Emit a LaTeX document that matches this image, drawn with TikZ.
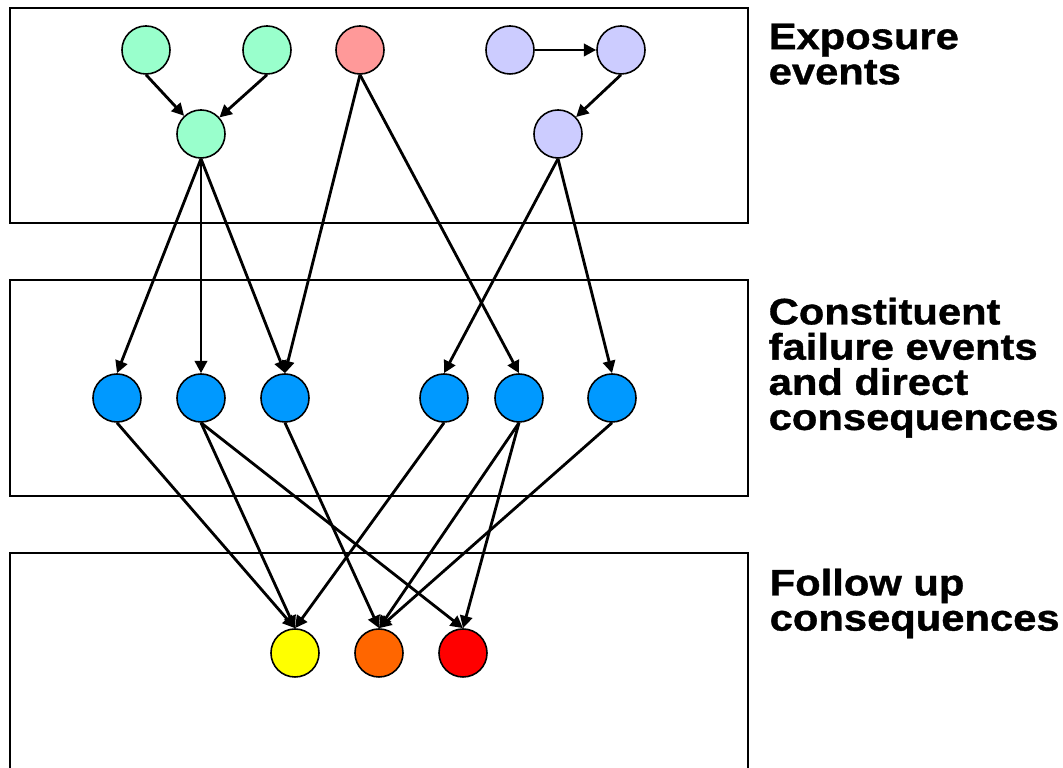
\documentclass[tikz,border=0pt]{standalone}
\usepackage{fontspec}
\newfontfamily\beschrift[FakeStretch=1.13, BoldFeatures={FakeBold=1}]{Liberation Sans}
\usetikzlibrary{arrows.meta}

\definecolor{mint}{HTML}{99FFCC}
\definecolor{rosa}{HTML}{FF9999}
\definecolor{flieder}{HTML}{CCCCFF}
\definecolor{himmel}{HTML}{0099FF}
\definecolor{gelb}{HTML}{FFFF00}
\definecolor{orangerot}{HTML}{FF6600}
\definecolor{rot}{HTML}{FF0000}

\begin{document}
\begin{tikzpicture}[x=0.01cm, y=-0.01cm,
    ereignis/.style={circle, draw, line width=0.45pt, minimum size=0.48cm, inner sep=0pt},
    pfeil/.style={line width=0.8pt, -{Triangle[length=3.5pt, width=3.5pt]}},
    titel/.style={anchor=north west, inner sep=0pt, align=left,
        font=\beschrift\bfseries\fontsize{10.5}{10}\selectfont}]
    \useasboundingbox (0,0) rectangle (1063,768);

    % Rahmen der drei Ebenen
    \draw[line width=0.4pt] (10,8) rectangle (748,223);
    \draw[line width=0.4pt] (10,280) rectangle (748,496);
    \draw[line width=0.4pt] (10,775) -- (10,553) -- (748,553) -- (748,775);

    % Ebene 1
    \node[ereignis, fill=mint] (g1) at (146,50) {};
    \node[ereignis, fill=mint] (g2) at (267,50) {};
    \node[ereignis, fill=rosa] (p1) at (360,50) {};
    \node[ereignis, fill=flieder] (l1) at (510,50) {};
    \node[ereignis, fill=flieder] (l2) at (621,50) {};
    \node[ereignis, fill=mint] (g3) at (201,134) {};
    \node[ereignis, fill=flieder] (l3) at (558,134) {};

    % Ebene 2
    \node[ereignis, fill=himmel] (b1) at (117,398) {};
    \node[ereignis, fill=himmel] (b2) at (201,398) {};
    \node[ereignis, fill=himmel] (b3) at (285,398) {};
    \node[ereignis, fill=himmel] (b4) at (444,398) {};
    \node[ereignis, fill=himmel] (b5) at (519,398) {};
    \node[ereignis, fill=himmel] (b6) at (612,398) {};

    % Ebene 3
    \node[ereignis, fill=gelb] (f1) at (295,653) {};
    \node[ereignis, fill=orangerot] (f2) at (379,653) {};
    \node[ereignis, fill=rot] (f3) at (463,653) {};

    % Pfeile innerhalb Ebene 1
    \draw[pfeil] (g1.south) -- (g3);
    \draw[pfeil] (g2.south) -- (g3);
    \draw[pfeil] (l1) -- (l2);
    \draw[pfeil] (l2.south) -- (l3);

    % Ebene 1 -> Ebene 2
    \draw[pfeil] (g3.south) -- (b1.north);
    \draw[pfeil] (g3.south) -- (b2.north);
    \draw[pfeil] (g3.south) -- (b3.north);
    \draw[pfeil] (p1.south) -- (b3.north);
    \draw[pfeil] (p1.south) -- (b5.north);
    \draw[pfeil] (l3.south) -- (b4.north);
    \draw[pfeil] (l3.south) -- (b6.north);

    % Ebene 2 -> Ebene 3
    \draw[pfeil] (b1.south) -- (f1.north);
    \draw[pfeil] (b2.south) -- (f1.north);
    \draw[pfeil] (b2.south) -- (f3.north);
    \draw[pfeil] (b3.south) -- (f2.north);
    \draw[pfeil] (b4.south) -- (f1.north);
    \draw[pfeil] (b5.south) -- (f2.north);
    \draw[pfeil] (b5.south) -- (f3.north);
    \draw[pfeil] (b6.south) -- (f2.north);

    % Beschriftung
    \node[titel] (t1) at (768,23) {Exposure\\events};
    \node[titel] (t2) at (768,297) {Constituent\\failure events\\and direct\\consequences};
    \node[titel] (t3) at (769,568) {Follow up\\consequences};
\end{tikzpicture}
\end{document}
